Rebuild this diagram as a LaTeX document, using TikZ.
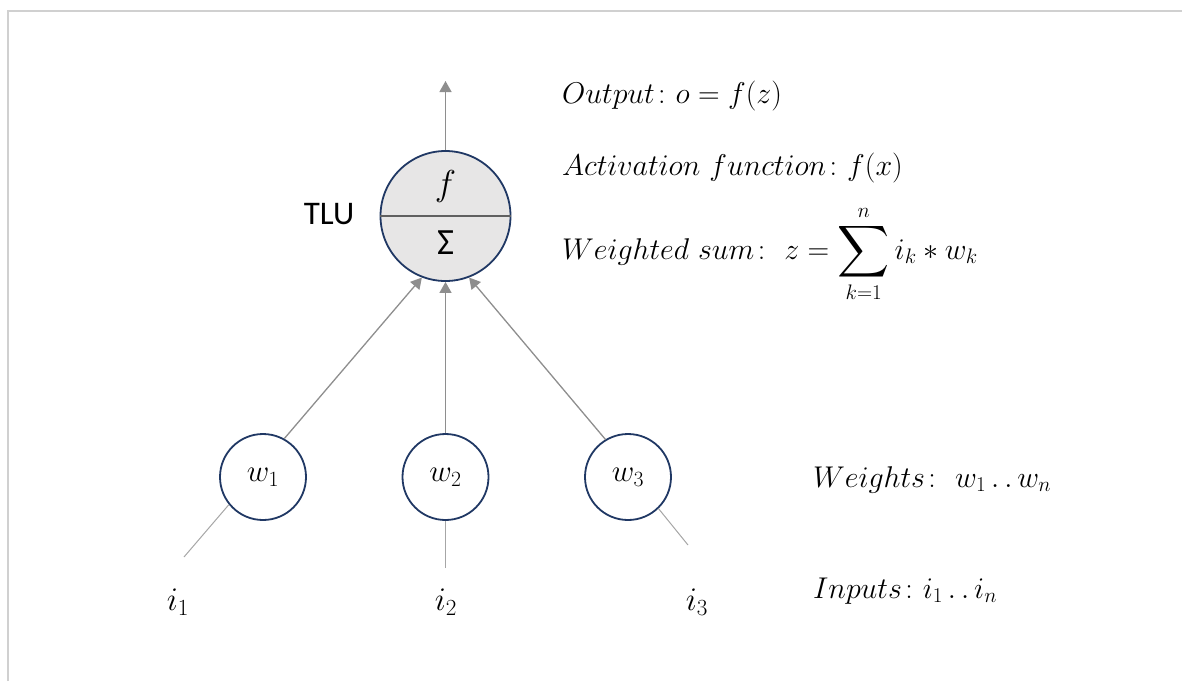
\RequirePackage{fix-cm}
\documentclass[tikz,border=0pt]{standalone}
\usepackage{fontspec}
\usepackage{graphicx}
\usepackage{amsmath}
\newfontfamily\calibri{Carlito}
\usetikzlibrary{arrows.meta}
\definecolor{navy}{HTML}{203864}
\definecolor{tlufill}{HTML}{E7E6E6}
\definecolor{arrowgray}{HTML}{8E8E8E}
\definecolor{linegray}{HTML}{A6A6A6}
\definecolor{framegray}{HTML}{D0D0D0}
\definecolor{divgray}{HTML}{606060}
\begin{document}
\begin{tikzpicture}[x=1pt,y=-1pt,
  neuron/.style={circle, draw=navy, line width=1.8pt, fill=white, minimum size=86pt, inner sep=0pt, font=\fontsize{31}{36}\selectfont},
  tlunode/.style={circle, draw=navy, line width=1.8pt, fill=tlufill, minimum size=130pt, inner sep=0pt},
  flow/.style={draw=arrowgray, line width=1.3pt, -{Triangle[length=11pt,width=12pt]}},
  feed/.style={draw=linegray, line width=1pt},
  lbl/.style={inner sep=0pt, font=\fontsize{33}{38}\selectfont},
  eq/.style={anchor=base west, inner sep=0pt, font=\fontsize{30}{34}\selectfont},
  sans/.style={inner sep=0pt, font=\calibri\fontsize{33}{38}\selectfont}
]
\useasboundingbox (0,0) rectangle (1182,681);
% frame
\draw[framegray, line width=2pt] (7.8,681) -- (7.8,11) -- (1182,11);

% TLU
\node[tlunode] (tlu) at (445.5,216) {};
\draw[divgray, line width=1.4pt] (tlu.west) -- (tlu.east);
\node[inner sep=0pt, font=\fontsize{36}{40}\selectfont] (fn) at (445.5,186) {$f$};
\node[sans, font=\calibri\fontsize{37}{42}\selectfont] (sig) at (445.5,243) {Σ};
\node[sans] (tlulbl) at (329,214) {TLU};

% output arrow
\coordinate (out) at (445.5,81);
\draw[flow] (tlu.north) -- (out);

% weights
\node[neuron] (w1) at (263,477) {$w_1$};
\node[neuron] (w2) at (445.5,477) {$w_2$};
\node[neuron] (w3) at (628,477) {$w_3$};

\draw[flow] (w1.61) -- (tlu.-111);
\draw[flow] (w2.north) -- (tlu.south);
\draw[flow] (w3.121) -- (tlu.-69);

% inputs
\coordinate (in1) at (184,557);
\coordinate (in2) at (445.5,568);
\coordinate (in3) at (688,545);
\draw[feed] (in1) -- (w1.219);
\draw[feed] (in2) -- (w2.south);
\draw[feed] (in3) -- (w3.-46);

\node[lbl] (i1) at (178,602) {$i_1$};
\node[lbl] (i2) at (446,602) {$i_2$};
\node[lbl] (i3) at (697,602) {$i_3$};

% equations
\node[eq] (eqout) at (562,103) {$Output\colon o = f(z)$};
\node[eq] (eqact) at (562,175) {$Activation\ function\colon f(x)$};
\node[eq] (eqsum) at (562,259) {$Weighted\ sum\colon\ z = \mathop{\vcenter{\hbox{\scalebox{1.45}{$\displaystyle\sum$}}}}\limits_{k=1}^{n} i_k * w_k$};
\node[eq] (eqw) at (813,487) {$Weights\colon\ w_1\mathinner{\ldotp\ldotp} w_n$};
\node[eq] (eqi) at (813,598) {$Inputs\colon i_1\mathinner{\ldotp\ldotp} i_n$};
\end{tikzpicture}
\end{document}
